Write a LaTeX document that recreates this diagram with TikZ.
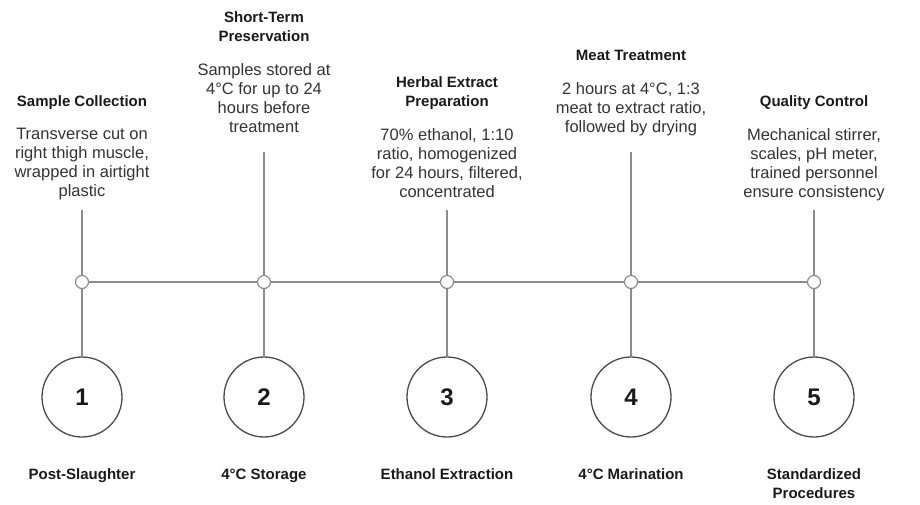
\documentclass[tikz,border=0pt]{standalone}
\usepackage{fontspec}
\setmainfont{Liberation Sans}
\usepackage{tikz}

\definecolor{linegray}{HTML}{8C8C8C}
\definecolor{ringgray}{HTML}{4A4A4A}
\definecolor{titleblack}{HTML}{1A1A1A}
\definecolor{textgray}{HTML}{333333}

\begin{document}
\begin{tikzpicture}[x=1pt,y=-1pt,every node/.style={inner sep=0pt}]

\tikzstyle{title}=[anchor=north,align=center,text=titleblack,font=\fontsize{15}{19}\selectfont\bfseries];
\tikzstyle{desc}=[anchor=north,align=center,text=textgray,font=\fontsize{16.5}{19}\selectfont];
\tikzstyle{dot}=[circle,draw=linegray,fill=white,line width=1.2pt,minimum size=13pt];
\tikzstyle{ring}=[circle,draw=ringgray,line width=1.3pt,minimum size=80pt,text=titleblack,font=\fontsize{24}{24}\selectfont\bfseries];
\tikzstyle{stem}=[draw=linegray,line width=1.5pt];

\useasboundingbox (0,0) rectangle (920,504);

\node[title] (h1) at (82,95.6) {Sample Collection};
\node[desc] (b1) at (82,128) {Transverse cut on\\right thigh muscle,\\wrapped in airtight\\plastic};
\node[title] (h2) at (264,11.6) {Short-Term\\Preservation};
\node[desc] (b2) at (264,63) {Samples stored at\\4°C for up to 24\\hours before\\treatment};
\node[title] (h3) at (447,76.6) {Herbal Extract\\Preparation};
\node[desc] (b3) at (447,128) {70\% ethanol, 1:10\\ratio, homogenized\\for 24 hours, filtered,\\concentrated};
\node[title] (h4) at (631,49.6) {Meat Treatment};
\node[desc] (b4) at (631,82) {2 hours at 4°C, 1:3\\meat to extract ratio,\\followed by drying};
\node[title] (h5) at (814,95.6) {Quality Control};
\node[desc] (b5) at (814,128) {Mechanical stirrer,\\scales, pH meter,\\trained personnel\\ensure consistency};

\coordinate (t1) at (82,210);
\coordinate (t2) at (264,152);
\coordinate (t3) at (447,210);
\coordinate (t4) at (631,152);
\coordinate (t5) at (814,210);

\node[dot] (d1) at (82,282) {};
\node[dot] (d2) at (264,282) {};
\node[dot] (d3) at (447,282) {};
\node[dot] (d4) at (631,282) {};
\node[dot] (d5) at (814,282) {};

\node[ring] (c1) at (82,397) {1};
\node[ring] (c2) at (264,397) {2};
\node[ring] (c3) at (447,397) {3};
\node[ring] (c4) at (631,397) {4};
\node[ring] (c5) at (814,397) {5};

\node[title] (f1) at (82,468.6) {Post-Slaughter};
\node[title] (f2) at (264,468.6) {4°C Storage};
\node[title] (f3) at (447,468.6) {Ethanol Extraction};
\node[title] (f4) at (631,468.6) {4°C Marination};
\node[title] (f5) at (814,468.6) {Standardized\\Procedures};

\path[stem] (d1) -- (d2);
\path[stem] (d2) -- (d3);
\path[stem] (d3) -- (d4);
\path[stem] (d4) -- (d5);

\path[stem] (t1) -- (d1) -- (c1);
\path[stem] (t2) -- (d2) -- (c2);
\path[stem] (t3) -- (d3) -- (c3);
\path[stem] (t4) -- (d4) -- (c4);
\path[stem] (t5) -- (d5) -- (c5);

\end{tikzpicture}
\end{document}
